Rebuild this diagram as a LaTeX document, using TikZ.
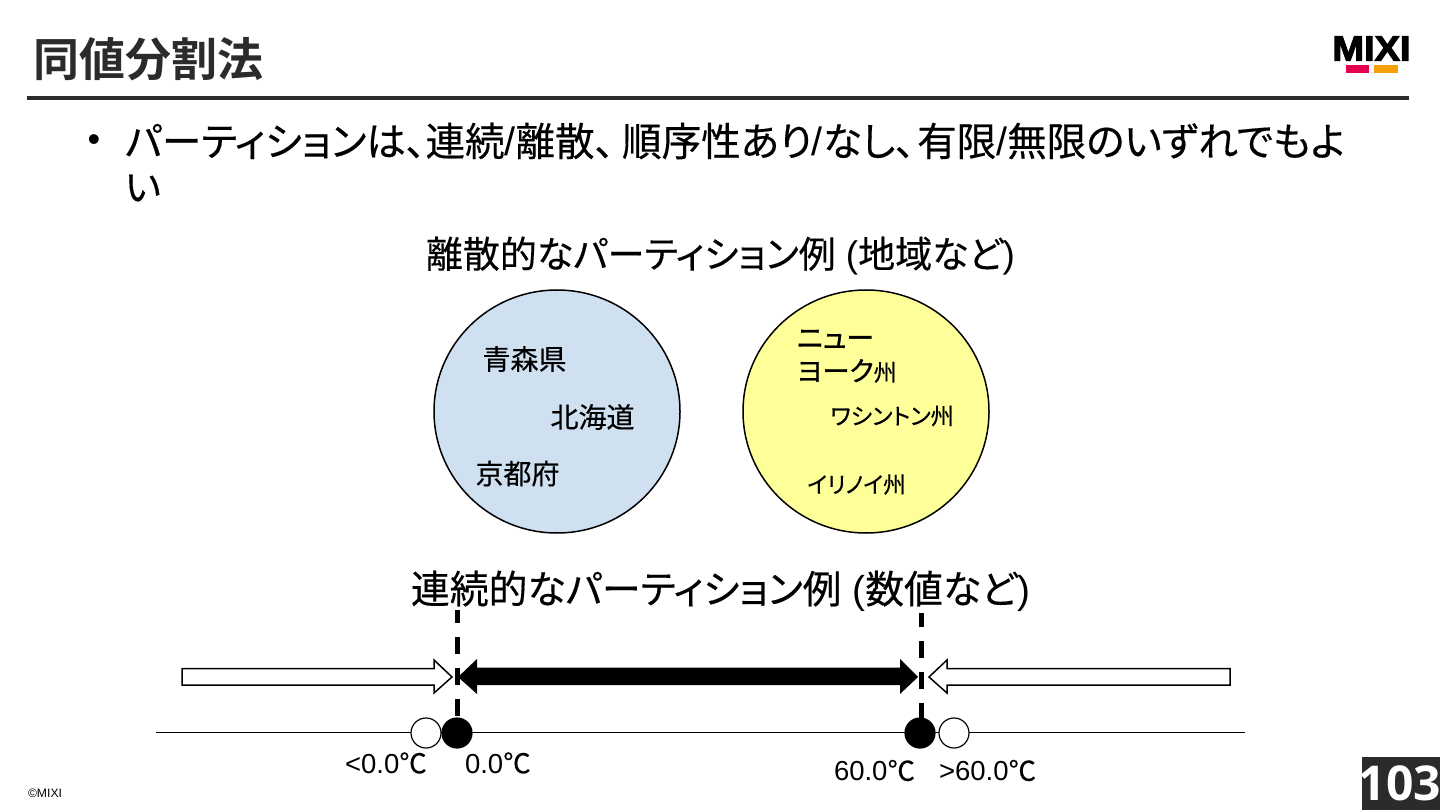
\documentclass[tikz,border=0pt]{standalone}
\usepackage{fontspec}
\usetikzlibrary{shapes.geometric}
\setmainfont{Liberation Sans}
\newfontfamily\lat{Liberation Sans}
\newfontfamily\cj[RawFeature=+palt,FakeBold=0.35]{Noto Sans CJK JP}
\newfontfamily\cjm[RawFeature=+palt,FakeBold=1.2]{Noto Sans CJK JP}
\newfontfamily\cjb[RawFeature=+palt]{Noto Sans CJK JP Bold}
\newfontfamily\heavy[FakeBold=3]{Liberation Sans Bold}
\newfontfamily\pagefont{Open Sans Bold}
\newcommand{\fz}[1]{\fontsize{#1}{#1}\selectfont}
\newcommand{\jp}[1]{{\cj #1}}
\newcommand{\jm}[1]{{\cjm #1}}
\newcommand{\jb}[1]{{\cjb #1}}
\definecolor{ink}{HTML}{2B2B2B}
\definecolor{blueFill}{HTML}{CFE0F1}
\definecolor{yellowFill}{HTML}{FFFF99}
\definecolor{logoRed}{HTML}{E6004F}
\definecolor{logoOrange}{HTML}{F6A10A}
\tikzset{
  lbl/.style={inner sep=0pt,outer sep=0pt,text=black,font=\lat},
  lft/.style={lbl,anchor=west},
  region/.style={ellipse,draw=black,line width=1.5pt,minimum width=246pt,minimum height=243pt,inner sep=0pt},
  dot/.style={circle,draw=black,line width=1.2pt,minimum size=30pt,inner sep=0pt},
  numline/.style={draw=black,line width=1.6pt},
  cut/.style={draw=black,line width=5pt},
  block/.style={draw=black,line width=1.5pt,line join=miter},
}
\begin{document}
\begin{tikzpicture}[x=1pt,y=-1pt]
\useasboundingbox (0,0) rectangle (1440,810);
\fill[white] (0,0) rectangle (1440,810);
% header
\node[lft,text=ink] (title) at (33,59) {\fz{46}\jb{同値分割法}};
\fill[ink] (27,96) rectangle (1409,100);
\node[lbl] (logo) at (1371.5,48.5) {\resizebox{78pt}{24pt}{\heavy\fz{30}MIXI}};
\fill[logoRed] (1346,65) rectangle (1369,73);
\fill[logoOrange] (1374,65) rectangle (1398,73);
% body
\node[lbl] (bullet) at (94,143) {\fz{36}•};
\node[lft] (body1) at (125,141) {\fz{36}\resizebox{1220pt}{!}{\jp{パーティションは、連続}/\jp{離散、}\hspace{7pt}\jp{順序性あり}/\jp{なし、}\hspace{2pt}\jp{有限}/\jp{無限のいずれでもよ}}};
\node[lft] (body2) at (125,188) {\fz{38}\jp{い}};
% discrete
\node[lft] (h1) at (426,256) {\resizebox{589pt}{!}{\fz{36}\jp{離散的なパーティション例} (\jp{地域など})}};
\node[region,fill=blueFill] (c1) at (557,411.5) {};
\node[region,fill=yellowFill] (c2) at (866,411.5) {};
\node[lbl] (aomori) at (524.5,359) {\fz{28}\jp{青森県}};
\node[lbl] (hokkaido) at (592.5,417) {\fz{28}\jp{北海道}};
\node[lbl] (kyoto) at (517.5,473.5) {\fz{28}\jp{京都府}};
\node[lft] (ny1) at (797,339) {\fz{28}\jm{ニュー}};
\node[lft] (ny2) at (797,371) {\fz{27}\jm{ヨーク}\fz{23}\jp{州}};
\node[lbl] (wa) at (892,416) {\fz{23}\jp{ワシントン州}};
\node[lbl] (il) at (856.5,484.5) {\fz{22.5}\jp{イリノイ州}};
% continuous
\node[lft] (h2) at (411,591) {\resizebox{619pt}{!}{\fz{38}\jp{連続的なパーティション例} (\jp{数値など})}};
\coordinate (la) at (156,732.5);
\coordinate (lb) at (1245,732.5);
\draw[numline] (la) -- (lb);
\node[dot,fill=white] (o1) at (426,733) {};
\node[dot,fill=black] (b1) at (457,733) {};
\node[dot,fill=black] (b2) at (920,733) {};
\node[dot,fill=white] (o2) at (954,733) {};
\coordinate (d1) at (457,610);
\coordinate (d2) at (921,613);
\draw[cut,dash pattern=on 17pt off 14pt,dash phase=4pt] (d1) -- (d1 |- b1.center);
\draw[cut,dash pattern=on 17pt off 14pt,dash phase=3pt] (d2) -- (d2 |- b2.center);
% block arrows
\draw[block,fill=white] (182,668.5) -- (434,668.5) -- (434,660) -- (452,677) -- (434,693) -- (434,685) -- (182,685) -- cycle;
\draw[block,fill=white] (1230,668.5) -- (947,668.5) -- (947,660) -- (929,677) -- (947,693) -- (947,685) -- (1230,685) -- cycle;
\fill[black] (458,677) -- (477,659) -- (477,667.5) -- (900,667.5) -- (900,659) -- (918,677) -- (900,694) -- (900,685) -- (477,685) -- (477,694) -- cycle;
% temperatures
\node[lft] (t1) at (345,763) {\fz{27.5}<0.0\jp{℃}};
\node[lft] (t2) at (465,763) {\fz{27.5}0.0\jp{℃}};
\node[lft] (t3) at (834,770.5) {\fz{27.5}60.0\jp{℃}};
\node[lft] (t4) at (939,770.5) {\fz{27.5}>60.0\jp{℃}};
% footer
\node[lft] (copy) at (28,793.5) {\resizebox{34pt}{!}{\fz{11}\copyright MIXI}};
\fill[ink] (1362,757) rectangle (1440,810);
\node[lbl,anchor=east,text=white] (page) at (1441,783.5) {\pagefont\fz{48}103};
\end{tikzpicture}
\end{document}
